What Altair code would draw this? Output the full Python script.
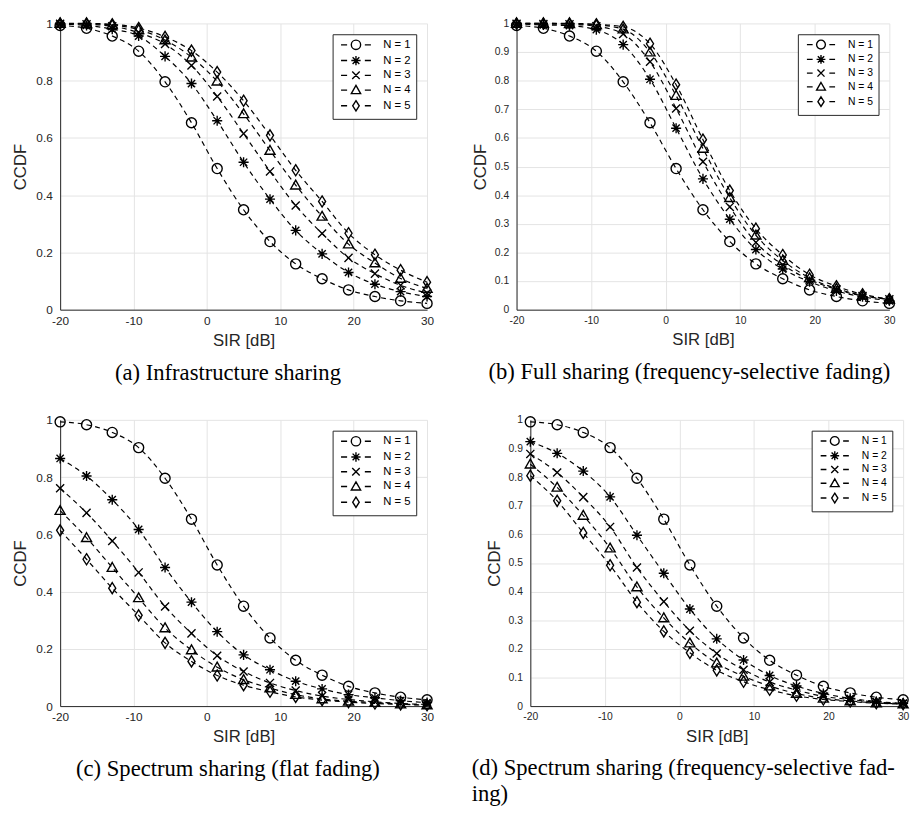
import altair as alt
import pandas as pd

# ---------------- data ----------------
sir_db = [-20, -16.4, -12.9, -9.3, -5.7, -2.1, 1.4, 5.0, 8.6, 12.1, 15.7, 19.3, 22.9, 26.4, 30]
series_names = ["N = 1", "N = 2", "N = 3", "N = 4", "N = 5"]

ccdf_n1 = [0.993, 0.983, 0.956, 0.903, 0.796, 0.653, 0.493, 0.349, 0.238, 0.160, 0.108, 0.069, 0.046, 0.031, 0.022]

# (a) Infrastructure sharing
a_n2 = [0.998, 0.993, 0.980, 0.956, 0.885, 0.790, 0.660, 0.515, 0.386, 0.277, 0.195, 0.130, 0.089, 0.063, 0.046]
a_n3 = [0.999, 0.997, 0.990, 0.968, 0.928, 0.853, 0.745, 0.615, 0.483, 0.364, 0.266, 0.181, 0.126, 0.085, 0.058]
a_n4 = [1.000, 0.999, 0.995, 0.978, 0.942, 0.882, 0.798, 0.684, 0.556, 0.435, 0.326, 0.229, 0.163, 0.109, 0.074]
a_n5 = [1.000, 1.000, 0.997, 0.984, 0.953, 0.905, 0.830, 0.730, 0.609, 0.487, 0.378, 0.267, 0.192, 0.138, 0.096]

# (b) Full sharing (frequency-selective fading)
b_n2 = [0.998, 0.995, 0.992, 0.978, 0.926, 0.805, 0.634, 0.457, 0.316, 0.210, 0.142, 0.098, 0.065, 0.045, 0.031]
b_n3 = [0.999, 0.998, 0.997, 0.990, 0.963, 0.866, 0.703, 0.517, 0.359, 0.235, 0.157, 0.105, 0.071, 0.048, 0.036]
b_n4 = [1.000, 1.000, 0.999, 0.995, 0.980, 0.900, 0.748, 0.563, 0.391, 0.260, 0.172, 0.111, 0.074, 0.050, 0.036]
b_n5 = [1.000, 1.000, 1.000, 0.997, 0.988, 0.929, 0.786, 0.594, 0.416, 0.283, 0.191, 0.122, 0.082, 0.054, 0.037]

# (c) Spectrum sharing (flat fading)
c_n2 = [0.865, 0.804, 0.721, 0.617, 0.484, 0.363, 0.260, 0.179, 0.127, 0.087, 0.060, 0.040, 0.029, 0.019, 0.012]
c_n3 = [0.761, 0.675, 0.577, 0.467, 0.348, 0.254, 0.176, 0.121, 0.081, 0.054, 0.035, 0.023, 0.015, 0.009, 0.006]
c_n4 = [0.683, 0.588, 0.484, 0.378, 0.273, 0.196, 0.136, 0.092, 0.063, 0.040, 0.025, 0.017, 0.012, 0.007, 0.004]
c_n5 = [0.614, 0.513, 0.412, 0.317, 0.221, 0.156, 0.107, 0.073, 0.050, 0.032, 0.021, 0.014, 0.009, 0.006, 0.003]

# (d) Spectrum sharing (frequency-selective fading)
d_n2 = [0.924, 0.883, 0.821, 0.731, 0.597, 0.464, 0.339, 0.235, 0.161, 0.107, 0.070, 0.044, 0.027, 0.016, 0.010]
d_n3 = [0.881, 0.816, 0.730, 0.626, 0.484, 0.365, 0.263, 0.184, 0.127, 0.084, 0.056, 0.034, 0.023, 0.014, 0.008]
d_n4 = [0.845, 0.764, 0.666, 0.552, 0.416, 0.308, 0.220, 0.150, 0.104, 0.070, 0.044, 0.027, 0.018, 0.011, 0.007]
d_n5 = [0.805, 0.717, 0.605, 0.492, 0.363, 0.261, 0.186, 0.125, 0.085, 0.057, 0.036, 0.023, 0.016, 0.010, 0.007]

x_ticks = [-20, -10, 0, 10, 20, 30]
y_ticks_coarse = [0, 0.2, 0.4, 0.6, 0.8, 1]
y_ticks_fine = [0, 0.1, 0.2, 0.3, 0.4, 0.5, 0.6, 0.7, 0.8, 0.9, 1]

captions = {
    "a": "(a)  Infrastructure sharing",
    "b": "(b)  Full sharing (frequency-selective fading)",
    "c": "(c)  Spectrum sharing (flat fading)",
    "d": ["(d)  Spectrum sharing (frequency-selective fad-", "ing)"],
}

# ---------------- marker shapes (unit box paths) ----------------
CIRCLE = "M1,0A1,1 0 1,1 -1,0A1,1 0 1,1 1,0Z"
ASTER = "M0,-1V1M-1,0H1M-0.72,-0.72L0.72,0.72M-0.72,0.72L0.72,-0.72"
XMARK = "M-0.8,-0.8L0.8,0.8M-0.8,0.8L0.8,-0.8"
TRI = "M0,-1L1,0.75L-1,0.75Z"
DIAM = "M0,-1.1L0.7,0L0,1.1L-0.7,0Z"
marker_paths = [CIRCLE, ASTER, XMARK, TRI, DIAM]
DASHES = "M-3.2,0H-1.9M1.9,0H3.2"
legend_paths = [DASHES + p for p in marker_paths]

FONT = "Liberation Sans"
SERIF = "Liberation Serif"
INK = "#262626"


def make_df(series_lists):
    rows = []
    for name, vals in zip(series_names, series_lists):
        for x, y in zip(sir_db, vals):
            rows.append({"sir": x, "ccdf": y, "series": name})
    return pd.DataFrame(rows)


def panel(series_lists, yticks, caption, width, height, tick_fs, leg_fs, leg_sym, y_title_pad,
          cap_anchor="middle", cap_dx=0):
    df = make_df(series_lists)
    x_enc = alt.X("sir:Q", scale=alt.Scale(domain=[-20, 30], nice=False),
                  axis=alt.Axis(values=x_ticks, title="SIR [dB]", labelExpr="datum.value + ''",
                                labelFlush=False, labelFontSize=tick_fs, titleFontSize=17,
                                labelPadding=6, titlePadding=6))
    y_enc = alt.Y("ccdf:Q", scale=alt.Scale(domain=[0, 1], nice=False),
                  axis=alt.Axis(values=yticks, title="CCDF", format="~g",
                                labelFontSize=tick_fs, titleFontSize=17, labelPadding=8,
                                titlePadding=y_title_pad))
    base = alt.Chart(df)
    lines = base.mark_line(color="black", strokeDash=[5, 4], strokeWidth=1.2,
                           interpolate="monotone").encode(x=x_enc, y=y_enc, detail="series:N")
    pts = base.mark_point(filled=False, color="black", strokeWidth=1.4, size=105, opacity=1).encode(
        x=x_enc, y=y_enc,
        shape=alt.Shape("series:N", scale=alt.Scale(domain=series_names, range=marker_paths),
                        legend=None))
    # legend-only layer (no visible marks): its shape scale carries the dashed legend glyphs
    leg = base.transform_filter("datum.sir > 1000").mark_point(
        filled=False, color="black", strokeWidth=1.4, size=100, opacity=0).encode(
        x=x_enc, y=y_enc,
        shape=alt.Shape("series:N", scale=alt.Scale(domain=series_names, range=legend_paths),
                        legend=alt.Legend(title=None, orient="top-right", offset=11,
                                          fillColor="white", strokeColor=INK, padding=5,
                                          labelFont=FONT, labelFontSize=leg_fs, labelColor="black",
                                          symbolSize=leg_sym, symbolStrokeWidth=1.4, symbolOpacity=1,
                                          symbolStrokeColor="black", symbolFillColor="transparent",
                                          symbolOffset=13, labelOffset=22, rowPadding=0)))
    title = alt.TitleParams(caption, orient="bottom", font=SERIF, fontSize=23, fontWeight="normal",
                            color="black", anchor=cap_anchor, frame="bounds", offset=14,
                            lineHeight=26, dx=cap_dx)
    return alt.layer(lines, pts, leg).resolve_scale(shape="independent").properties(
        width=width, height=height, title=title)


pa = panel([ccdf_n1, a_n2, a_n3, a_n4, a_n5], y_ticks_coarse, captions["a"], 373, 291, 12, 11.5, 90, 7,
           cap_dx=5)
pb = panel([ccdf_n1, b_n2, b_n3, b_n4, b_n5], y_ticks_fine, captions["b"], 379, 291, 10.5, 10.5, 80, 5,
           cap_dx=5)
pc = panel([ccdf_n1, c_n2, c_n3, c_n4, c_n5], y_ticks_coarse, captions["c"], 373, 291, 12, 11.5, 90, 7,
           cap_dx=5)
pd_ = panel([ccdf_n1, d_n2, d_n3, d_n4, d_n5], y_ticks_fine, captions["d"], 379, 291, 10.5, 10.5, 80, 5,
            cap_anchor="start", cap_dx=-14)

chart = alt.vconcat(
    alt.hconcat(pa, pb, spacing=37),
    alt.hconcat(pc, pd_, spacing=37),
    spacing=30,
).properties(padding={"left": 3, "top": 0, "right": 0, "bottom": 0}).configure_view(
    stroke=None
).configure_axis(
    labelFont=FONT, titleFont=FONT, labelColor=INK, titleColor=INK, titleFontWeight="normal",
    domainColor=INK, domainWidth=1, gridColor="#e3e3e3", gridWidth=1, ticks=False,
)

chart.save("out.html", embed_options={"renderer": "svg", "actions": False})
